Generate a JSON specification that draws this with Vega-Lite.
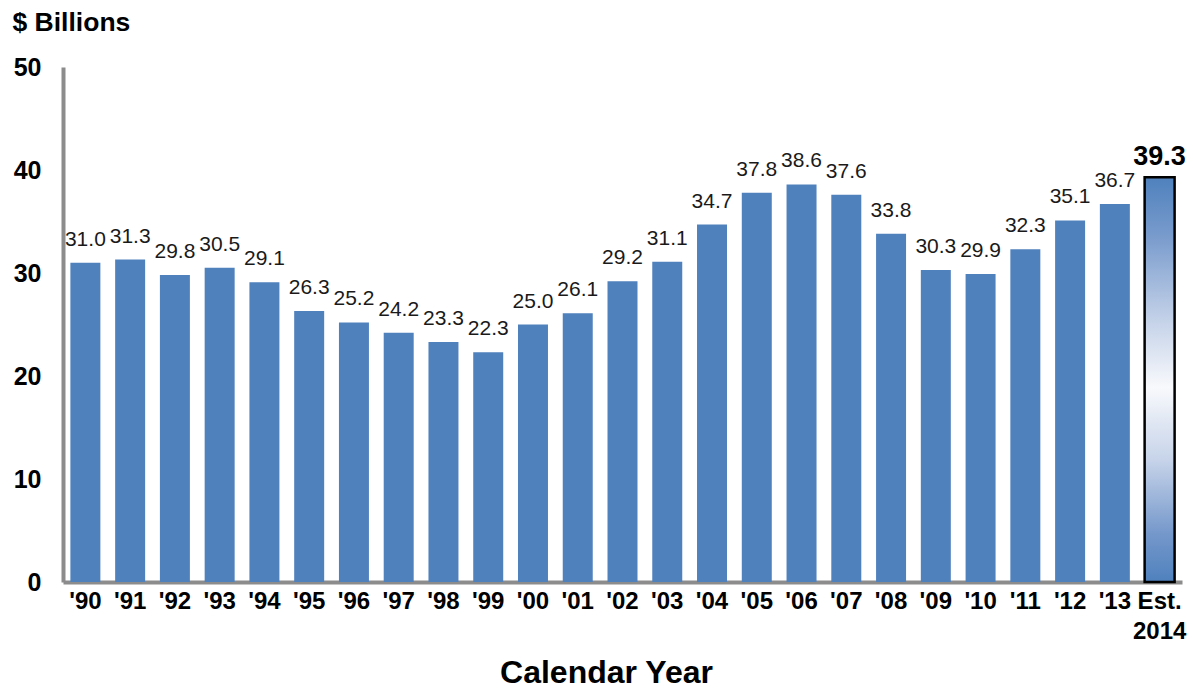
{
  "$schema": "https://vega.github.io/schema/vega-lite/v6.json",
  "autosize": "none",
  "width": 1119,
  "height": 515,
  "padding": {"left": 63, "top": 67, "right": 11, "bottom": 108},
  "background": "white",
  "config": {
    "view": {"stroke": null},
    "font": "Liberation Sans"
  },
  "data": {
    "values": [
      {"year": "'90", "value": 31.0, "est": false},
      {"year": "'91", "value": 31.3, "est": false},
      {"year": "'92", "value": 29.8, "est": false},
      {"year": "'93", "value": 30.5, "est": false},
      {"year": "'94", "value": 29.1, "est": false},
      {"year": "'95", "value": 26.3, "est": false},
      {"year": "'96", "value": 25.2, "est": false},
      {"year": "'97", "value": 24.2, "est": false},
      {"year": "'98", "value": 23.3, "est": false},
      {"year": "'99", "value": 22.3, "est": false},
      {"year": "'00", "value": 25.0, "est": false},
      {"year": "'01", "value": 26.1, "est": false},
      {"year": "'02", "value": 29.2, "est": false},
      {"year": "'03", "value": 31.1, "est": false},
      {"year": "'04", "value": 34.7, "est": false},
      {"year": "'05", "value": 37.8, "est": false},
      {"year": "'06", "value": 38.6, "est": false},
      {"year": "'07", "value": 37.6, "est": false},
      {"year": "'08", "value": 33.8, "est": false},
      {"year": "'09", "value": 30.3, "est": false},
      {"year": "'10", "value": 29.9, "est": false},
      {"year": "'11", "value": 32.3, "est": false},
      {"year": "'12", "value": 35.1, "est": false},
      {"year": "'13", "value": 36.7, "est": false},
      {"year": "Est. 2014", "value": 39.3, "est": true}
    ]
  },
  "encoding": {
    "x": {
      "field": "year",
      "type": "nominal",
      "sort": null,
      "scale": {"paddingInner": 0.33, "paddingOuter": 0.165},
      "axis": {
        "title": "Calendar Year",
        "titleFont": "Liberation Sans",
        "titleFontSize": 32,
        "titleFontWeight": "bold",
        "titleColor": "#000000",
        "titleX": 543,
        "titleY": 100,
        "titleBaseline": "alphabetic",
        "titleAnchor": null,
        "labelAngle": 0,
        "labelFont": "Liberation Sans",
        "labelFontSize": 24,
        "labelFontWeight": "bold",
        "labelColor": "#000000",
        "labelPadding": 7,
        "labelLineHeight": 30,
        "labelExpr": "datum.value == 'Est. 2014' ? ['Est.', '2014'] : datum.value",
        "ticks": false,
        "domainColor": "#8c8c8c",
        "domainWidth": 4
      }
    }
  },
  "layer": [
    {
      "transform": [{"filter": "!datum.est"}],
      "mark": {"type": "bar", "color": "#4f81bd"},
      "encoding": {
        "y": {
          "field": "value",
          "type": "quantitative",
          "scale": {"domain": [0, 50], "nice": false},
          "axis": {
            "title": "$ Billions",
            "titleAngle": 0,
            "titleAlign": "left",
            "titleBaseline": "alphabetic",
            "titleX": -51,
            "titleY": -37,
            "titleFont": "Liberation Sans",
            "titleFontSize": 26.5,
            "titleFontWeight": "bold",
            "titleColor": "#000000",
            "values": [0, 10, 20, 30, 40, 50],
            "labelFont": "Liberation Sans",
            "labelFontSize": 25,
            "labelFontWeight": "bold",
            "labelColor": "#000000",
            "labelPadding": 22,
            "ticks": false,
            "grid": false,
            "domainColor": "#8c8c8c",
            "domainWidth": 4
          }
        }
      }
    },
    {
      "transform": [{"filter": "datum.est"}],
      "mark": {
        "type": "bar",
        "stroke": "#000000",
        "strokeWidth": 2.5,
        "color": {
          "gradient": "linear",
          "x1": 0, "y1": 0, "x2": 0, "y2": 1,
          "stops": [
            {"offset": 0, "color": "#4f81bd"},
            {"offset": 0.15, "color": "#7a9ccd"},
            {"offset": 0.35, "color": "#c3d1e8"},
            {"offset": 0.52, "color": "#f8f9fc"},
            {"offset": 0.7, "color": "#c6d3e9"},
            {"offset": 0.88, "color": "#7598cb"},
            {"offset": 1, "color": "#4f81bd"}
          ]
        }
      },
      "encoding": {
        "y": {"field": "value", "type": "quantitative"}
      }
    },
    {
      "transform": [{"filter": "!datum.est"}],
      "mark": {
        "type": "text",
        "baseline": "alphabetic",
        "dy": -17,
        "font": "Liberation Sans",
        "fontSize": 21,
        "color": "#1a1a1a"
      },
      "encoding": {
        "y": {"field": "value", "type": "quantitative"},
        "text": {"field": "value", "type": "quantitative", "format": ".1f"}
      }
    },
    {
      "transform": [{"filter": "datum.est"}],
      "mark": {
        "type": "text",
        "baseline": "alphabetic",
        "dy": -12,
        "font": "Liberation Sans",
        "fontSize": 27,
        "fontWeight": "bold",
        "color": "#000000"
      },
      "encoding": {
        "y": {"field": "value", "type": "quantitative"},
        "text": {"field": "value", "type": "quantitative", "format": ".1f"}
      }
    }
  ]
}
